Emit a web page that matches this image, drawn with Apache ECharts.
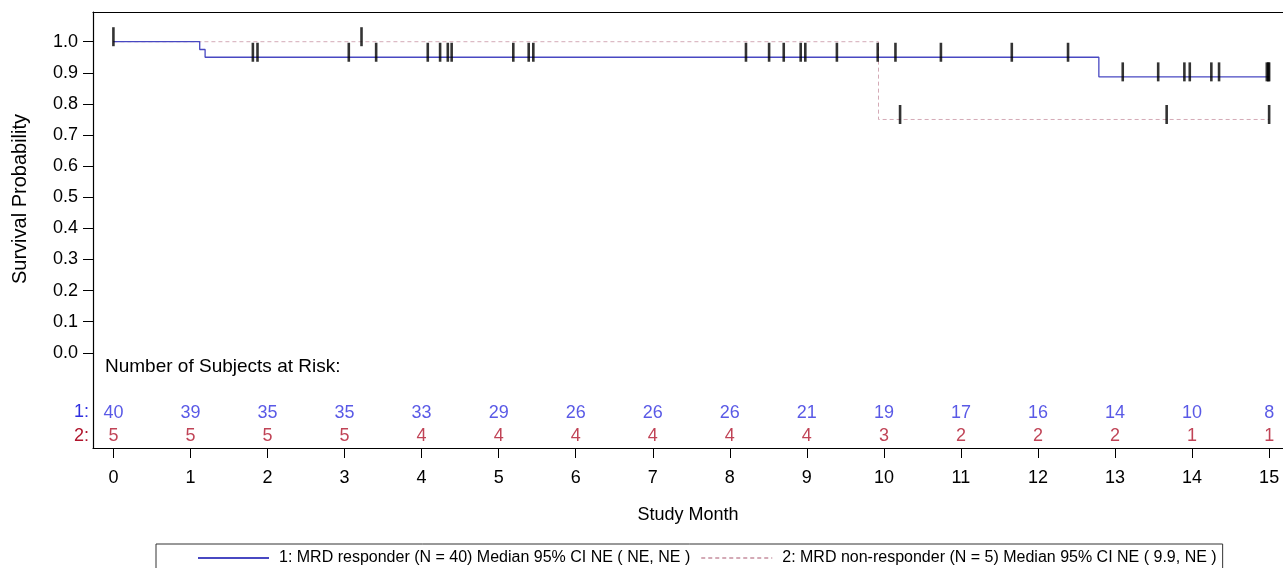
<!DOCTYPE html>
<html>
<head>
<meta charset="utf-8">
<script src="https://cdn.jsdelivr.net/npm/echarts@6/dist/echarts.min.js"></script>
<style>
html,body{margin:0;padding:0;background:#fff;}
#chart{width:1283px;height:568px;}
</style>
</head>
<body>
<div id="chart"></div>
<script>
// ---- data ----
const xTicks = [0, 1, 2, 3, 4, 5, 6, 7, 8, 9, 10, 11, 12, 13, 14, 15];
const yTicks = [0.0, 0.1, 0.2, 0.3, 0.4, 0.5, 0.6, 0.7, 0.8, 0.9, 1.0];

const s1Name = '1: MRD responder (N = 40) Median 95% CI NE ( NE, NE )';
const s1Times = [0, 1.12, 1.19, 12.79, 15.0];
const s1Surv  = [1.0, 0.975, 0.95, 0.887, 0.887];
const s1Censor = [0, 1.81, 1.87, 3.055, 3.41, 4.08, 4.24, 4.34, 4.39, 5.19, 5.39, 5.45,
                  8.21, 8.51, 8.70, 8.92, 8.98, 9.39, 9.92, 10.15, 10.74, 11.66, 12.39,
                  13.10, 13.56, 13.90, 13.97, 14.25, 14.35, 14.97, 14.99, 15.0];

const s2Name = '2: MRD non-responder (N = 5) Median 95% CI NE ( 9.9, NE )';
const s2Times = [0, 9.93, 15.0];
const s2Surv  = [1.0, 0.75, 0.75];
const s2Censor = [3.22, 10.21, 13.67, 15.0];

const riskMonths = [0, 1, 2, 3, 4, 5, 6, 7, 8, 9, 10, 11, 12, 13, 14, 15];
const risk1 = [40, 39, 35, 35, 33, 29, 26, 26, 26, 21, 19, 17, 16, 14, 10, 8];
const risk2 = [5, 5, 5, 5, 4, 4, 4, 4, 4, 4, 3, 2, 2, 2, 1, 1];

// ---- styles ----
const FONT = 'Liberation Sans, Arial, sans-serif';
const BLUE_LINE = '#4848c2';
const PINK_LINE = '#d4aab6';
const BLUE_TXT = '#2f2fe0';
const RED_TXT = '#b0142c';
const riskRowY = [-0.192, -0.269];

function survAt(times, surv, t) {
  let s = surv[0];
  for (let i = 0; i < times.length; i++) { if (times[i] <= t) s = surv[i]; }
  return s;
}
const stepData = (times, surv) => times.map((t, i) => [t, surv[i]]);
const censorData = (times, surv, cens) => cens.map(t => [t, survAt(times, surv, t)]);
const riskData = (vals, row) => riskMonths.map((m, i) => [m, riskRowY[row], vals[i]]);

const chart = echarts.init(document.getElementById('chart'), null, {renderer: 'canvas'});

const censorStyle = {
  type: 'scatter', symbol: 'rect', symbolSize: [2.6, 19], symbolOffset: [0, -5],
  itemStyle: {color: '#000'}, z: 5, silent: true
};
const riskStyle = (color) => ({
  type: 'scatter', symbolSize: 0, silent: true, z: 6,
  label: {show: true, position: [0, 0], align: 'center', verticalAlign: 'middle',
          formatter: p => String(p.value[2]), color: color, fontSize: 18, fontFamily: FONT}
});

chart.setOption({
  animation: false,
  backgroundColor: '#fff',
  grid: {left: 93, right: 0, top: 12, bottom: 120, containLabel: false, outerBoundsMode: 'none'},
  xAxis: [{
    type: 'value', min: -0.265, max: 15.18,
    axisLine: {show: true, onZero: false, lineStyle: {color: '#000', width: 1.2}},
    axisTick: {show: true, length: 10, lineStyle: {color: '#000', width: 1}, customValues: xTicks},
    axisLabel: {show: true, customValues: xTicks, margin: 21, color: '#000', fontSize: 18, fontFamily: FONT,
                formatter: v => String(v)},
    splitLine: {show: false},
    name: 'Study Month', nameLocation: 'middle', nameGap: 58,
    nameTextStyle: {color: '#000', fontSize: 18, fontFamily: FONT}
  }, {
    type: 'value', position: 'top', min: -0.265, max: 15.18,
    axisLine: {show: true, onZero: false, lineStyle: {color: '#000', width: 1.2}},
    axisTick: {show: false}, axisLabel: {show: false}, splitLine: {show: false}
  }],
  yAxis: {
    type: 'value', min: -0.306, max: 1.0955,
    axisLine: {show: true, onZero: false, lineStyle: {color: '#000', width: 1.2}},
    axisTick: {show: true, length: 10, lineStyle: {color: '#000', width: 1}, customValues: yTicks},
    axisLabel: {show: true, customValues: yTicks, margin: 15, color: '#000', fontSize: 18, fontFamily: FONT,
                formatter: v => v.toFixed(1)},
    splitLine: {show: false}
  },
  legend: {
    data: [s1Name, s2Name],
    left: 156, top: 544,
    orient: 'horizontal',
    padding: [6, 6, 20, 41],
    itemWidth: 71, itemHeight: 14, itemGap: 10,
    itemStyle: {opacity: 0},
    borderColor: '#333', borderWidth: 1,
    textStyle: {color: '#000', fontSize: 16, fontFamily: FONT, padding: [0, 0, 0, 5]},
    selectedMode: false
  },
  graphic: [
    {type: 'text', left: 105, top: 357, style: {text: 'Number of Subjects at Risk:', fill: '#000', fontSize: 19, fontFamily: FONT}},
    {type: 'text', x: 89, y: 412.5, style: {text: '1:', fill: BLUE_TXT, fontSize: 18, fontFamily: FONT, align: 'right', verticalAlign: 'middle'}},
    {type: 'text', x: 89, y: 436.5, style: {text: '2:', fill: RED_TXT, fontSize: 18, fontFamily: FONT, align: 'right', verticalAlign: 'middle'}},
    {type: 'text', x: 20, y: 199, rotation: Math.PI / 2,
     style: {text: 'Survival Probability', fill: '#000', fontSize: 20, fontFamily: FONT, align: 'center', verticalAlign: 'middle'}}
  ],
  series: [
    {name: s2Name, type: 'line', step: 'end', symbol: 'none', data: stepData(s2Times, s2Surv),
     lineStyle: {color: PINK_LINE, width: 1, type: [4, 3]}, itemStyle: {color: PINK_LINE}, z: 2, silent: true},
    {name: s1Name, type: 'line', step: 'end', symbol: 'none', data: stepData(s1Times, s1Surv),
     lineStyle: {color: BLUE_LINE, width: 1.3}, itemStyle: {color: BLUE_LINE}, z: 3, silent: true},
    Object.assign({name: 'c2', data: censorData(s2Times, s2Surv, s2Censor)}, censorStyle),
    Object.assign({name: 'c1', data: censorData(s1Times, s1Surv, s1Censor)}, censorStyle),
    Object.assign({name: 'r1', data: riskData(risk1, 0)}, riskStyle(BLUE_TXT)),
    Object.assign({name: 'r2', data: riskData(risk2, 1)}, riskStyle(RED_TXT))
  ]
});
</script>
</body>
</html>
